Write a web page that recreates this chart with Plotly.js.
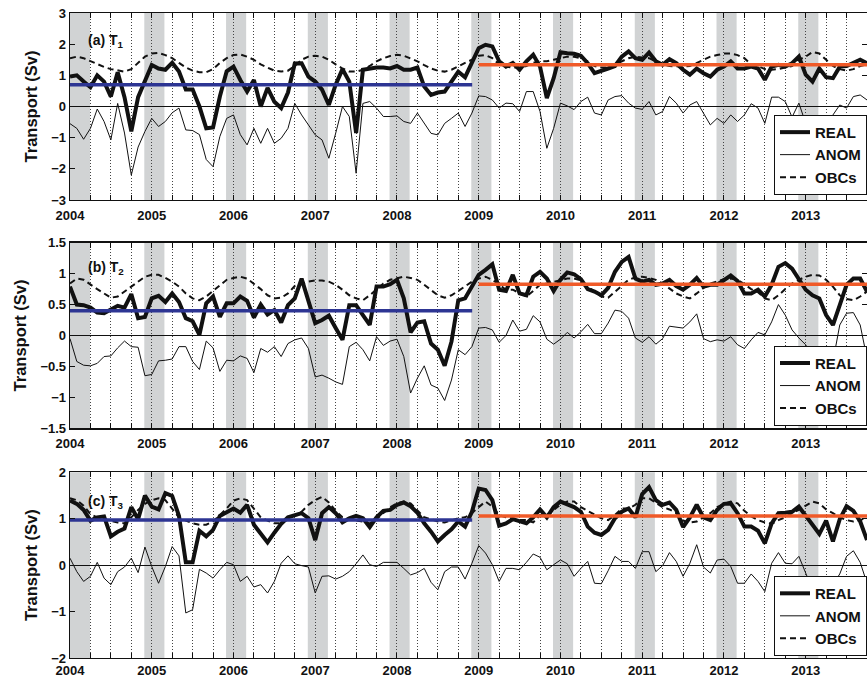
<!DOCTYPE html>
<html>
<head>
<meta charset="utf-8">
<script src="https://cdn.plot.ly/plotly-3.0.1.min.js"></script>
<style>
  html, body { margin: 0; padding: 0; background: #fff; overflow: hidden; }
  #chart { width: 867px; height: 677px; }
</style>
</head>
<body>
<div id="chart"></div>
<script>
// ---------------- DATA ----------------
const startYear = 2004;            // first monthly sample = Jan 2004
const years = [2004, 2005, 2006, 2007, 2008, 2009, 2010, 2011, 2012, 2013];
const yearLabels = ["2004", "2005", "2006", "2007", "2008", "2009", "2010", "2011", "2012", "2013"];
const seriesNames = ["REAL", "ANOM", "OBCs"];
const panelLabels = ["(a) T<sub>1</sub>", "(b) T<sub>2</sub>", "(c) T<sub>3</sub>"];
const yTitle = "Transport (Sv)";

// winter (grey) bands, decimal years
const winterStart = [2004.0, 2004.909, 2005.909, 2006.909, 2007.909, 2008.909, 2009.909, 2010.909, 2011.909, 2012.909];
const winterEnd   = [2004.245, 2005.155, 2006.155, 2007.155, 2008.155, 2009.155, 2010.155, 2011.155, 2012.155, 2013.155];

// mean periods
const period1 = [2004.0, 2008.92];
const period2 = [2009.0, 2013.75];
const meanPeriod1 = [0.70, 0.40, 0.97];
const meanPeriod2 = [1.34, 0.83, 1.06];

// Panel (a) T1
const realA = [0.96,1.0,0.8,0.62,1.0,0.8,0.32,1.1,0.3,-0.8,0.3,0.85,1.33,1.22,1.18,1.4,1.12,0.55,0.55,0.0,-0.7,-0.67,0.32,1.13,1.28,0.85,0.48,0.85,0.0,0.6,0.15,-0.05,0.45,1.38,1.39,0.96,0.8,0.54,0.05,0.7,1.2,0.8,-0.85,1.18,1.22,1.25,1.25,1.22,1.3,1.18,1.18,1.25,0.64,0.37,0.45,0.48,0.8,1.12,0.94,1.4,1.87,1.98,1.93,1.45,1.28,1.4,1.18,1.45,1.66,1.28,0.27,0.91,1.74,1.71,1.69,1.63,1.39,1.07,1.16,1.22,1.3,1.6,1.77,1.55,1.5,1.73,1.45,1.34,1.52,1.39,1.18,1.02,1.22,1.07,0.96,1.18,1.28,1.45,1.22,1.22,1.28,1.22,0.86,1.28,1.34,1.28,1.39,1.6,1.02,0.8,1.22,0.94,0.91,1.28,1.3,1.39,1.5,1.39];
const anomA = [-0.55,-0.7,-1.05,-0.7,-0.08,-0.48,-1.07,0.1,-0.85,-2.2,-1.3,-0.8,-0.38,-0.64,-0.48,-0.2,-0.05,-0.75,-0.77,-0.9,-1.7,-1.93,-0.96,-0.38,-0.27,-0.9,-1.23,-0.7,-1.18,-0.7,-1.18,-1.02,-0.7,0.1,-0.27,-0.59,-0.91,-1.07,-1.66,-0.86,0.0,-0.32,-2.14,0.1,0.16,-0.05,-0.32,-0.32,-0.3,-0.48,-0.54,-0.21,-0.54,-0.86,-0.91,-0.54,-0.38,-0.21,-0.64,-0.21,0.34,0.32,0.21,-0.05,0.11,0.09,-0.16,0.48,0.48,-0.16,-1.34,-0.7,0.11,0.02,-0.1,0.16,0.3,-0.21,-0.27,0.21,0.32,0.35,0.11,-0.05,-0.09,0.16,-0.27,-0.16,0.32,0.11,-0.21,0.05,0.16,-0.21,-0.59,-0.38,-0.54,-0.27,-0.48,-0.27,0.09,-0.05,-0.54,0.3,0.3,0.16,-0.34,0.11,-0.54,-0.86,-0.64,-0.54,-0.27,0.05,-0.05,0.32,0.37,0.21];
const obcA = [1.55,1.6,1.55,1.45,1.35,1.27,1.2,1.15,1.12,1.2,1.4,1.6,1.7,1.72,1.65,1.55,1.4,1.25,1.15,1.1,1.1,1.2,1.4,1.55,1.65,1.67,1.6,1.5,1.35,1.25,1.15,1.12,1.15,1.3,1.5,1.6,1.63,1.6,1.5,1.35,1.22,1.12,1.12,1.18,1.3,1.45,1.55,1.62,1.66,1.63,1.55,1.45,1.33,1.22,1.15,1.12,1.18,1.3,1.4,1.5,1.63,1.65,1.55,1.35,1.28,1.25,1.25,1.3,1.4,1.45,1.45,1.5,1.55,1.6,1.6,1.55,1.45,1.3,1.25,1.25,1.35,1.45,1.55,1.6,1.58,1.55,1.45,1.35,1.3,1.28,1.28,1.3,1.4,1.5,1.6,1.65,1.7,1.7,1.65,1.55,1.35,1.3,1.2,1.18,1.2,1.25,1.3,1.5,1.6,1.75,1.7,1.5,1.3,1.2,1.15,1.2,1.3,1.35];

// Panel (b) T2
const realB = [0.79,0.5,0.49,0.45,0.37,0.36,0.42,0.48,0.45,0.67,0.28,0.3,0.6,0.64,0.54,0.68,0.54,0.28,0.23,0.01,0.52,0.63,0.3,0.52,0.52,0.63,0.56,0.29,0.5,0.34,0.41,0.21,0.49,0.6,0.92,0.57,0.2,0.25,0.32,0.12,-0.07,0.49,0.49,0.33,0.17,0.79,0.79,0.83,0.9,0.6,0.05,0.21,0.23,-0.13,-0.23,-0.49,-0.1,0.57,0.6,0.79,0.98,1.06,1.15,0.74,0.72,0.98,0.68,0.65,0.95,1.03,0.92,0.72,0.9,1.02,0.99,0.91,0.75,0.71,0.65,0.77,1.03,1.19,1.27,0.92,0.87,0.9,0.82,0.84,0.9,0.8,0.74,0.82,0.93,0.79,0.82,0.82,0.9,0.97,0.88,0.68,0.68,0.74,0.63,0.82,1.11,1.17,1.08,0.9,0.74,0.65,0.6,0.33,0.17,0.49,0.82,0.92,0.92,0.71];
const anomB = [-0.05,-0.42,-0.48,-0.49,-0.45,-0.34,-0.33,-0.2,-0.09,-0.18,-0.19,-0.65,-0.63,-0.41,-0.4,-0.38,-0.18,-0.18,-0.42,-0.55,-0.09,-0.2,-0.58,-0.4,-0.41,-0.33,-0.37,-0.6,-0.21,-0.27,-0.18,-0.34,-0.13,-0.07,-0.04,-0.21,-0.67,-0.64,-0.69,-0.75,-0.79,-0.18,-0.11,-0.23,-0.41,-0.02,-0.16,-0.09,-0.06,-0.34,-0.93,-0.69,-0.49,-0.8,-0.85,-1.05,-0.72,-0.23,-0.31,-0.18,0.12,0.13,0.09,-0.11,0.0,0.25,0.07,0.1,0.32,0.22,-0.06,-0.14,-0.06,0.05,-0.04,0.06,0.18,0.03,0.03,0.2,0.41,0.39,0.28,-0.04,-0.11,-0.02,-0.14,-0.05,0.15,0.13,0.12,0.22,0.35,-0.05,-0.1,-0.07,-0.09,-0.02,-0.15,-0.21,-0.07,0.05,0.01,0.22,0.5,0.33,0.09,-0.04,-0.15,-0.36,-0.45,-0.58,-0.42,0.17,0.36,0.37,0.17,-0.37];
const obcB = [0.84,0.92,0.9,0.82,0.75,0.68,0.61,0.63,0.71,0.8,0.88,0.95,0.98,0.98,0.93,0.87,0.79,0.68,0.6,0.57,0.63,0.72,0.82,0.9,0.93,0.95,0.92,0.84,0.75,0.65,0.6,0.61,0.68,0.8,0.84,0.87,0.89,0.89,0.87,0.82,0.74,0.65,0.6,0.57,0.65,0.74,0.84,0.9,0.93,0.95,0.93,0.9,0.82,0.74,0.65,0.61,0.65,0.72,0.79,0.87,0.92,0.95,0.9,0.82,0.74,0.74,0.68,0.63,0.72,0.82,0.84,0.87,0.9,0.92,0.92,0.89,0.79,0.71,0.63,0.61,0.71,0.8,0.9,0.94,0.95,0.93,0.9,0.84,0.76,0.68,0.63,0.6,0.68,0.77,0.84,0.88,0.91,0.92,0.9,0.83,0.75,0.7,0.6,0.57,0.65,0.75,0.84,0.9,0.95,0.98,0.97,0.9,0.79,0.65,0.59,0.57,0.63,0.71];

// Panel (c) T3
const realC = [1.39,1.32,1.19,0.96,1.03,1.05,0.62,0.72,0.79,1.25,0.99,1.5,1.26,1.2,1.55,1.49,1.06,0.06,0.06,0.74,0.62,0.76,1.06,1.13,1.22,1.13,1.3,0.87,0.67,0.49,0.7,0.89,1.03,1.08,1.12,1.01,0.54,1.12,1.25,1.12,0.92,1.01,1.06,1.01,0.82,1.03,1.17,1.19,1.3,1.35,1.27,1.13,0.9,0.72,0.51,0.65,0.77,0.94,0.83,1.15,1.65,1.62,1.4,0.85,0.9,0.99,0.94,0.9,1.03,1.2,1.03,1.25,1.37,1.3,1.25,1.15,0.83,0.7,0.65,0.76,1.01,1.15,1.22,1.03,1.53,1.68,1.4,1.3,1.35,1.19,0.82,1.03,1.3,1.03,0.97,1.19,1.32,1.33,1.12,0.83,0.83,0.74,0.47,0.9,1.12,1.13,1.15,1.26,1.05,0.87,0.67,0.96,0.51,0.99,1.27,1.17,0.94,0.54];
const anomC = [0.15,-0.14,-0.35,-0.24,0.06,-0.28,-0.42,-0.14,-0.04,0.15,-0.16,0.39,-0.03,-0.39,-0.03,0.4,0.2,-1.03,-0.96,-0.09,-0.17,-0.28,-0.1,0.06,0.01,-0.35,-0.24,-0.47,-0.42,-0.6,-0.35,0.04,0.2,0.03,-0.01,-0.04,-0.6,-0.24,-0.23,-0.3,-0.24,-0.14,0.03,0.22,0.01,-0.03,0.06,0.06,0.06,-0.07,-0.21,-0.16,-0.07,-0.37,-0.53,-0.14,-0.04,-0.04,-0.3,0.04,0.42,0.26,0.01,-0.35,-0.07,-0.07,-0.1,0.06,0.24,0.17,-0.1,0.01,0.11,0.03,-0.24,-0.07,0.08,-0.39,-0.4,-0.12,0.19,0.08,0.08,-0.07,0.29,0.29,-0.14,-0.01,0.27,0.08,-0.24,0.04,0.44,-0.04,-0.17,0.11,0.13,-0.03,-0.39,-0.39,-0.19,-0.35,-0.57,0.04,0.27,0.04,0.03,0.19,-0.19,-0.53,-0.82,-0.32,-0.42,-0.19,0.19,0.31,0.06,-0.39];
const obcC = [1.44,1.4,1.28,1.1,1.03,0.99,0.96,0.92,0.9,1.03,1.19,1.32,1.4,1.44,1.4,1.22,1.03,0.96,0.9,0.87,0.87,0.94,1.08,1.22,1.39,1.44,1.4,1.22,1.03,0.96,0.9,0.9,0.99,1.08,1.15,1.3,1.4,1.47,1.35,1.17,1.03,0.99,0.96,0.94,0.9,0.99,1.13,1.25,1.33,1.37,1.33,1.19,1.03,0.99,0.94,0.92,0.97,1.01,1.03,1.12,1.25,1.37,1.26,1.08,1.03,1.01,0.97,0.97,0.92,1.08,1.08,1.19,1.3,1.37,1.37,1.25,1.17,1.08,1.01,0.97,1.08,1.22,1.22,1.3,1.44,1.44,1.35,1.25,1.2,1.12,0.96,0.92,0.94,1.03,1.12,1.25,1.32,1.37,1.33,1.17,1.05,0.97,0.92,0.89,0.97,1.03,1.12,1.19,1.28,1.37,1.33,1.2,1.12,1.03,0.97,0.94,0.96,1.05];

const panels = [
  { real: realA, anom: anomA, obc: obcA, range: [-3, 3], dtick: 1 },
  { real: realB, anom: anomB, obc: obcB, range: [-1.5, 1.5], dtick: 0.5 },
  { real: realC, anom: anomC, obc: obcC, range: [-2, 2], dtick: 1 }
];

// ---------------- STYLE ----------------
const FONT = "Liberation Sans, Arial, Helvetica, sans-serif";
const domains = [[0.710, 1.0], [0.3561, 0.6439], [0.0, 0.2879]];
const legendY = [0.718, 0.360, 0.003];
const labelY = [0.85, 0.865, 0.84];
const xLabelStandoff = [3, 3, 0];
const blue = "#2d3593";
const orange = "#f05a28";
const ink = "#111";

// time axis built from sample index
const nMonths = realA.length;
const months = [];
for (let i = 0; i < nMonths; i++) months.push(startYear + i / 12);

const traces = [];
const shapes = [];
const annotations = [];
const layout = {
  width: 867, height: 677,
  margin: { l: 70, r: 0, t: 13, b: 19 },
  paper_bgcolor: "#fff", plot_bgcolor: "#fff",
  font: { family: FONT, color: ink, weight: "bold" },
  showlegend: true
};

panels.forEach((p, k) => {
  const xa = k === 0 ? "x" : "x" + (k + 1);
  const ya = k === 0 ? "y" : "y" + (k + 1);
  const xKey = k === 0 ? "xaxis" : "xaxis" + (k + 1);
  const yKey = k === 0 ? "yaxis" : "yaxis" + (k + 1);
  const lgKey = k === 0 ? "legend" : "legend" + (k + 1);

  layout[xKey] = {
    domain: [0, 1], anchor: ya, range: [2004, 2013.75],
    tickmode: "array", tickvals: years, ticktext: yearLabels,
    ticks: "inside", ticklen: 5, tickwidth: 1, tickcolor: ink,
    ticklabelstandoff: xLabelStandoff[k],
    showgrid: true, gridcolor: "#444", gridwidth: 1, griddash: "1px,2px",
    minor: {
      tick0: 2004, dtick: 0.25, ticks: "inside", ticklen: 5, tickwidth: 1, tickcolor: ink,
      showgrid: true, gridcolor: "#444", gridwidth: 1, griddash: "1px,2px"
    },
    showline: true, linecolor: ink, linewidth: 1.3, mirror: "ticks",
    zeroline: false,
    tickfont: { family: FONT, size: 13, weight: "bold", color: ink }
  };
  layout[yKey] = {
    domain: domains[k], anchor: xa, range: p.range, dtick: p.dtick,
    ticks: "inside", ticklen: 5, tickwidth: 1, tickcolor: ink,
    showgrid: false, showline: true, linecolor: ink, linewidth: 1.3, mirror: "ticks",
    zeroline: true, zerolinecolor: ink, zerolinewidth: 1,
    tickfont: { family: FONT, size: 13, weight: "bold", color: ink },
    title: { text: yTitle, font: { family: FONT, size: 16.5, weight: "bold", color: ink }, standoff: 9 }
  };
  layout[lgKey] = {
    x: 1, xanchor: "right", y: legendY[k], yanchor: "bottom",
    bgcolor: "#fff", bordercolor: ink, borderwidth: 1,
    font: { family: FONT, size: 15, weight: "bold", color: ink },
    tracegroupgap: 0, itemwidth: 30
  };

  winterStart.forEach((s, j) => {
    shapes.push({
      type: "rect", layer: "below", xref: xa, yref: ya + " domain",
      x0: s, x1: winterEnd[j], y0: 0, y1: 1,
      fillcolor: "#d1d3d4", line: { width: 0 }
    });
  });

  annotations.push({
    xref: xa + " domain", yref: ya + " domain", x: 0.02, y: labelY[k],
    xanchor: "left", yanchor: "middle", showarrow: false,
    text: panelLabels[k], font: { family: FONT, size: 14, weight: "bold", color: ink }
  });

  traces.push({
    x: months, y: p.real, xaxis: xa, yaxis: ya, mode: "lines", name: seriesNames[0],
    line: { color: ink, width: 4 }, legend: lgKey
  });
  traces.push({
    x: months, y: p.anom, xaxis: xa, yaxis: ya, mode: "lines", name: seriesNames[1],
    line: { color: ink, width: 1 }, legend: lgKey
  });
  traces.push({
    x: months, y: p.obc, xaxis: xa, yaxis: ya, mode: "lines", name: seriesNames[2],
    line: { color: ink, width: 2, dash: "6px,4px" }, legend: lgKey
  });
  traces.push({
    x: period1, y: [meanPeriod1[k], meanPeriod1[k]], xaxis: xa, yaxis: ya, mode: "lines",
    line: { color: blue, width: 3.5 }, showlegend: false, hoverinfo: "skip"
  });
  traces.push({
    x: period2, y: [meanPeriod2[k], meanPeriod2[k]], xaxis: xa, yaxis: ya, mode: "lines",
    line: { color: orange, width: 3.5 }, showlegend: false, hoverinfo: "skip"
  });
});

layout.shapes = shapes;
layout.annotations = annotations;

Plotly.newPlot("chart", traces, layout, { displayModeBar: false, staticPlot: true });
</script>
</body>
</html>
